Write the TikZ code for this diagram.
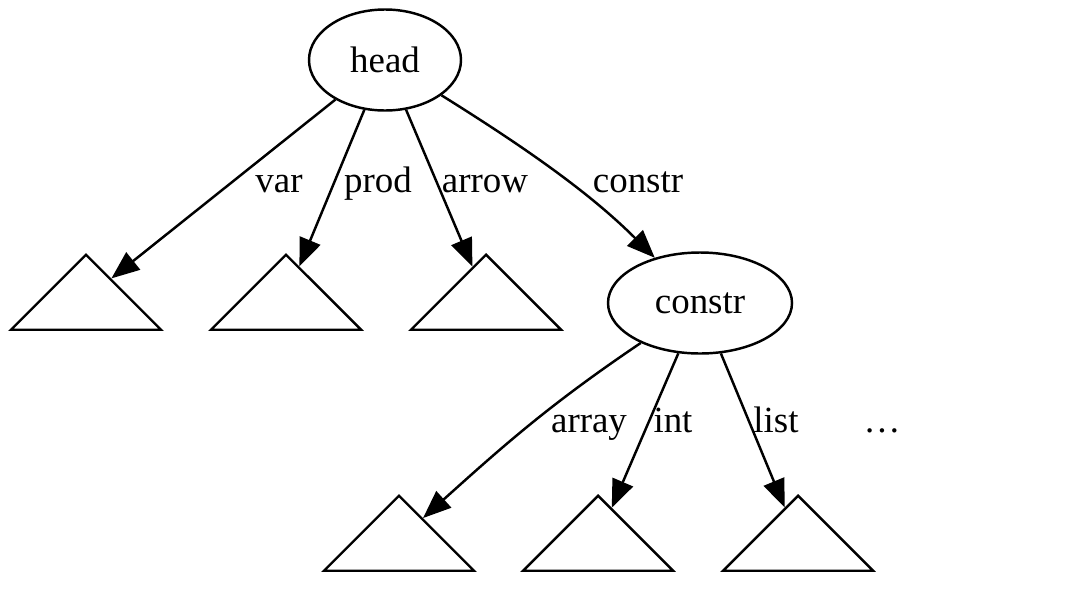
\documentclass[tikz,border=0pt]{standalone}
\usepackage{fontspec}
\setmainfont{Liberation Serif}
\usetikzlibrary{shapes.geometric}
\usetikzlibrary{arrows.meta}

\begin{document}
\begin{tikzpicture}[
        font=\fontsize{21}{25}\selectfont,
        line width=1.4pt,
        term/.style={draw, ellipse, inner sep=0pt, minimum height=2.02cm},
        subtree/.style={draw, isosceles triangle, isosceles triangle apex angle=90,
            shape border rotate=90, inner sep=0pt, minimum size=1.5cm, anchor=apex},
        link/.style={-{Triangle[length=0.56cm,width=0.44cm]}},
        lbl/.style={anchor=base, inner sep=0pt}
    ]
        \useasboundingbox (0,0) rectangle (21.72,-12.12);

        \node[term, minimum width=3.04cm] (head) at (7.70,-1.20) {head};
        \node[term, minimum width=3.68cm] (constr) at (14.00,-6.06) {constr};

        \node[subtree] (tvar) at (1.72,-5.06) {};
        \node[subtree] (tprod) at (5.72,-5.06) {};
        \node[subtree] (tarrow) at (9.72,-5.06) {};
        \node[subtree] (tarray) at (7.98,-9.88) {};
        \node[subtree] (tint) at (11.96,-9.88) {};
        \node[subtree] (tlist) at (15.96,-9.88) {};

        \draw[link] (head) -- (tvar);
        \draw[link] (head) -- (tprod);
        \draw[link] (head) -- (tarrow);
        \draw[link] (head) to[out=-32,in=135,looseness=0.9] (constr);
        \draw[link] (constr) to[out=214,in=42] (tarray);
        \draw[link] (constr) -- (tint);
        \draw[link] (constr) -- (tlist);

        \node[lbl] (lvar) at (5.58,-3.84) {var};
        \node[lbl] (lprod) at (7.56,-3.84) {prod};
        \node[lbl] (larrow) at (9.70,-3.84) {arrow};
        \node[lbl] (lconstr) at (12.76,-3.84) {constr};
        \node[lbl] (larray) at (11.78,-8.64) {array};
        \node[lbl] (lint) at (13.46,-8.64) {int};
        \node[lbl] (llist) at (15.52,-8.64) {list};
        \node[lbl] (lmore) at (17.64,-8.64) {…};
\end{tikzpicture}
\end{document}
